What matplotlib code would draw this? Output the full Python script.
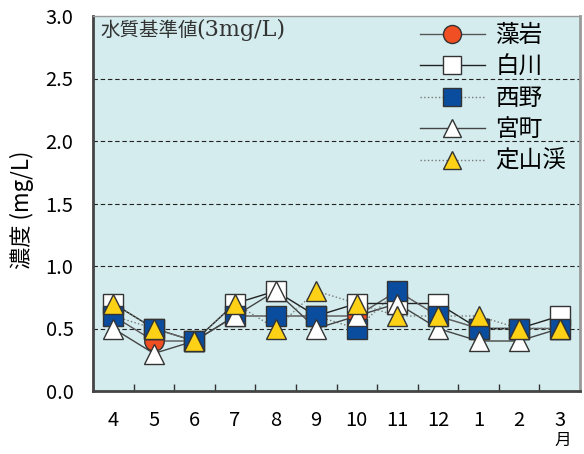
import matplotlib.pyplot as plt
from matplotlib.lines import Line2D
import numpy as np

plt.rcParams['font.family'] = ['Liberation Sans Narrow', 'Noto Sans CJK JP', 'DejaVu Sans']

# データ
months = ['4', '5', '6', '7', '8', '9', '10', '11', '12', '1', '2', '3']
names = ['藻岩', '白川', '西野', '宮町', '定山渓']
moiwa = [0.6, 0.4, 0.4, 0.6, 0.6, 0.6, 0.6, 0.8, 0.6, 0.5, 0.5, 0.5]
shiroi = [0.7, 0.5, 0.4, 0.7, 0.8, 0.6, 0.7, 0.7, 0.7, 0.5, 0.5, 0.6]
nishino = [0.6, 0.5, 0.4, 0.6, 0.6, 0.6, 0.5, 0.8, 0.6, 0.5, 0.5, 0.5]
miyamachi = [0.5, 0.3, 0.4, 0.6, 0.8, 0.5, 0.6, 0.7, 0.5, 0.4, 0.4, 0.5]
jozankei = [0.7, 0.5, 0.4, 0.7, 0.5, 0.8, 0.7, 0.6, 0.6, 0.6, 0.5, 0.5]
values = [moiwa, shiroi, nishino, miyamachi, jozankei]

# スタイル
markers = ['o', 's', 's', '^', '^']
faces = ['#f04e23', 'white', '#0a4c9e', 'white', '#fcd116']
lstyles = ['-', '-', ':', '-', ':']
lcolors = ['#555555', '#222222', '#777777', '#444444', '#777777']
cjk = ['Noto Sans CJK JP', 'DejaVu Sans']

x = np.arange(len(months))

fig = plt.figure(figsize=(5.84, 4.54), dpi=100)
ax = fig.add_axes([93/584, 1 - 391/454, 487/584, 375/454])
ax.set_facecolor('#d4ecee')

handles = []
for i in range(len(names)):
    ax.plot(x, values[i], linestyle=lstyles[i], color=lcolors[i], lw=1.0, zorder=2)
    ax.plot(x, values[i], linestyle='none', marker=markers[i], markersize=14,
            markerfacecolor=faces[i], markeredgecolor='#333333', markeredgewidth=1.0,
            zorder=3 + i)
    handles.append(Line2D([], [], linestyle=lstyles[i], color=lcolors[i], lw=1.0,
                          marker=markers[i], markersize=13, markerfacecolor=faces[i],
                          markeredgecolor='#333333', markeredgewidth=1.0))

ax.set_xlim(-0.5, 11.5)
ax.set_ylim(0, 3.0)
ax.set_yticks(np.arange(0, 3.01, 0.5))
ax.set_yticklabels(['%.1f' % v for v in np.arange(0, 3.01, 0.5)], fontsize=14.5)
ax.set_xticks(x)
ax.set_xticklabels(months, fontsize=14.5)
ax.set_xticks(np.arange(0.5, 11, 1), minor=True)
ax.tick_params(axis='x', which='major', length=0, pad=14)
ax.tick_params(axis='x', which='minor', direction='in', length=5, width=1, color='#333333')
ax.tick_params(axis='y', length=0, pad=14)
for v in np.arange(0.5, 2.6, 0.5):
    ax.axhline(v, color='#222222', lw=0.8, ls=(0, (4, 2.5)), zorder=1)

ax.spines['left'].set_color('#444444')
ax.spines['left'].set_linewidth(2)
ax.spines['bottom'].set_color('#444444')
ax.spines['bottom'].set_linewidth(2)
ax.spines['right'].set_color('#999999')
ax.spines['right'].set_linewidth(2)
ax.spines['top'].set_color('#999999')
ax.spines['top'].set_linewidth(1)

# 水質基準値の注記
fig.text(100/584, 1 - 36/454, '水質基準値', ha='left', va='baseline', fontsize=14,
         color='#333333', family=cjk)
fig.text(196/584, 1 - 36/454, '(3mg/L)', ha='left', va='baseline', fontsize=16,
         color='#333333', family=['DejaVu Serif'])
fig.text(22/584, 1 - 210/454, '濃度 (mg/L)', rotation=90, ha='center', va='center',
         fontsize=16, family=cjk)
fig.text(563/584, 1 - 440/454, '月', ha='center', va='center', fontsize=12, family=cjk)

leg = ax.legend(handles, names, loc='upper left', bbox_to_anchor=(420/584, 1 - 24/454),
                bbox_transform=fig.transFigure, borderaxespad=0, borderpad=0,
                frameon=False, handlelength=2.75, labelspacing=0.36, handletextpad=0.45,
                prop={'family': cjk, 'size': 17})

fig.savefig('out.png', dpi=100)
